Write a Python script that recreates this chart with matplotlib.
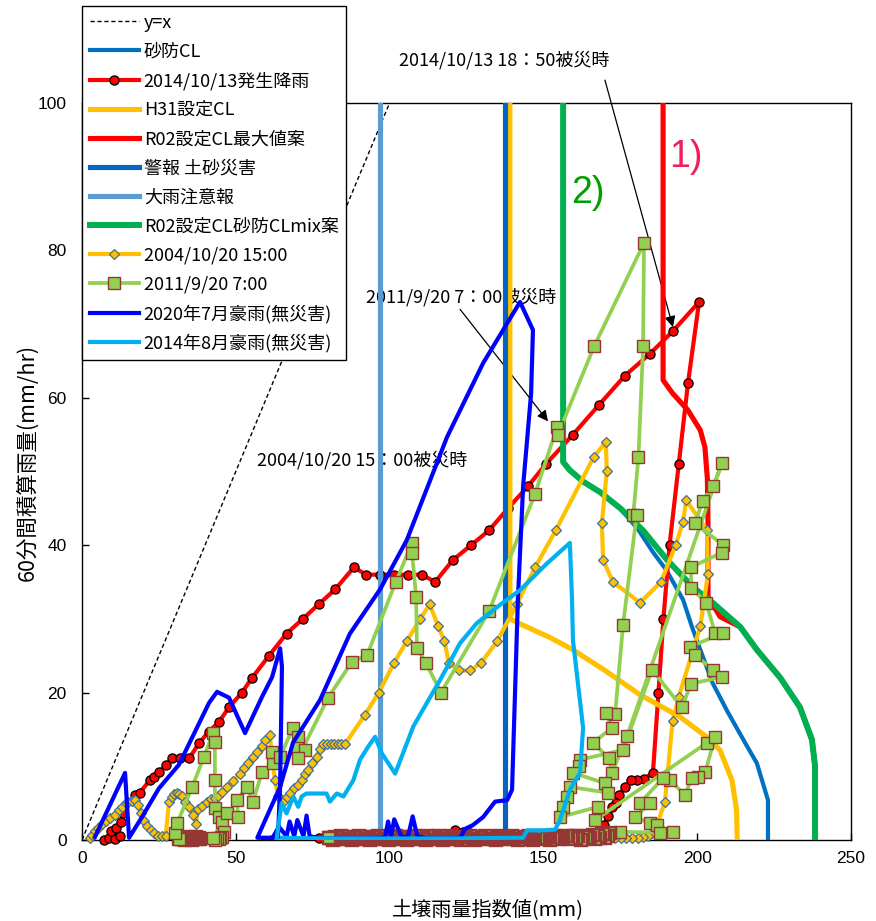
import matplotlib
matplotlib.use("Agg")
import matplotlib.pyplot as plt

plt.rcParams['font.family'] = ['Noto Sans CJK JP', 'DejaVu Sans']

# ---------------- data ----------------
yx_x = [0, 100]
yx_y = [0, 100]

# critical lines (soil index, 60-min rainfall)
sabo_cl = [(156.4, 100), (156.4, 51.3), (158.5, 50.2), (163.0, 48.6), (168.4, 47.2), (175.0, 45.0),
           (181.0, 42.0), (185.7, 39.0), (190.0, 36.6), (195.4, 32.6), (198.3, 28.9), (201.0, 25.8),
           (205.0, 21.3), (209.6, 17.6), (215.0, 13.6), (219.4, 10.4), (222.0, 6.8), (223.0, 5.4),
           (223.0, 0)]
h31_cl = [(139.1, 100), (139.1, 30.0), (142.5, 29.3), (152.0, 27.5), (159.6, 25.8), (170.0, 23.0),
          (181.4, 19.7), (194.4, 16.7), (203.0, 14.0), (207.4, 12.2), (211.3, 8.1), (212.8, 4.0),
          (213.0, 0)]
r02_max_cl = [(188.9, 100), (188.9, 62.4), (192.0, 60.6), (197.0, 58.3), (201.0, 55.6), (202.5, 53.3),
              (203.3, 49.0), (203.5, 43.0), (203.5, 33.0), (207.4, 30.3), (214.0, 28.9), (219.4, 25.8),
              (227.0, 22.0), (233.4, 18.0), (237.3, 13.6), (238.3, 10.0), (238.3, 0)]
keiho_x = [137.5, 137.5]
keiho_y = [0, 100]
ooame_x = [96.9, 96.9]
ooame_y = [0, 100]
r02_mix_cl = [(156.4, 100), (156.4, 51.3), (158.5, 50.2), (163.0, 48.6), (168.4, 47.2), (175.0, 45.0),
              (182.4, 42.0), (190.2, 38.0), (198.6, 34.3), (205.0, 32.2), (214.0, 28.9), (219.4, 25.8),
              (227.0, 22.0), (233.4, 18.0), (237.3, 13.6), (238.3, 10.0), (238.3, 0)]

# 2014/10/13 rainfall
rain_20141013 = [(7.0, 0.0), (8.8, 0.2), (10.7, 0.1), (12.5, 0.6), (9.5, 1.2), (11.2, 1.6), (12.8, 2.4),
                 (13.2, 3.6), (17.2, 6.1), (18.8, 6.4), (22.0, 8.1), (23.3, 8.5), (25.0, 9.2), (27.4, 10.2),
                 (29.3, 11.1), (32.0, 11.1), (34.9, 11.1), (38.0, 13.1), (41.2, 14.7), (44.5, 16.0),
                 (47.8, 18.0), (52.0, 20.0), (55.3, 22.0), (60.8, 25.0), (66.5, 28.0), (71.8, 30.0),
                 (77.0, 32.0), (82.3, 34.0), (88.4, 37.0), (92.3, 36.0), (96.9, 36.0), (101.4, 36.0),
                 (106.0, 36.0), (110.5, 36.0), (114.8, 35.0), (120.6, 38.0), (126.5, 40.0), (132.3, 42.0),
                 (138.5, 45.0), (145.0, 48.0), (150.8, 51.0), (159.6, 55.0), (168.0, 59.0), (176.5, 63.0),
                 (184.7, 66.0), (192.0, 69.0), (200.6, 73.0), (197.0, 62.0), (194.0, 51.0), (191.0, 40.0),
                 (189.0, 30.0), (187.4, 20.0), (185.6, 9.1), (182.7, 8.3), (180.4, 8.1), (178.5, 8.1),
                 (176.5, 7.2), (174.6, 6.1), (173.6, 5.0), (172.3, 4.5), (171.0, 3.2), (169.6, 2.0),
                 (167.8, 1.2), (165.5, 0.7), (163.0, 0.5), (160.5, 0.4), (158.0, 0.3), (155.5, 0.3),
                 (153.0, 0.3), (150.5, 0.3), (148.0, 0.3), (145.5, 0.3), (143.0, 0.3), (140.5, 0.3),
                 (138.0, 0.3), (135.5, 0.3), (133.0, 0.3), (130.5, 0.3), (128.2, 0.5), (126.0, 1.0),
                 (123.9, 1.1), (121.4, 1.4), (119.0, 0.5), (116.5, 0.3), (114.0, 0.3), (111.5, 0.3),
                 (109.0, 0.3), (106.5, 0.3), (104.0, 0.3), (101.5, 0.3), (99.0, 0.3), (96.5, 0.3),
                 (94.0, 0.3), (91.5, 0.3), (89.0, 0.3), (86.5, 0.3), (84.0, 0.3), (81.5, 0.3),
                 (79.2, 0.3), (77.0, 0.3)]
hollow_pt_x = [44.0]
hollow_pt_y = [0.1]

# 2004/10/20 rainfall
rain_20041020 = [(2.5, 0.3), (3.4, 0.7), (4.3, 1.2), (5.3, 1.6), (6.5, 2.1), (7.8, 2.6), (9.0, 3.0),
                 (10.8, 3.4), (12.0, 4.0), (13.0, 4.5), (14.2, 5.0), (15.0, 5.2), (16.2, 5.3), (17.2, 5.4),
                 (18.3, 4.7), (19.2, 3.6), (20.2, 2.6), (21.2, 1.9), (22.3, 1.3), (23.5, 0.9), (24.8, 0.6),
                 (26.0, 0.5), (27.2, 0.6), (28.3, 5.2), (29.2, 5.8), (30.0, 6.2), (30.8, 6.4), (31.6, 6.3),
                 (32.5, 6.0), (33.6, 5.2), (34.8, 4.5), (36.0, 3.4), (37.0, 2.2), (37.8, 4.2), (39.0, 4.6),
                 (40.5, 5.2), (42.0, 5.5), (43.2, 5.7), (44.3, 5.9), (45.5, 6.5), (47.0, 7.2), (49.0, 8.0),
                 (51.4, 9.0), (52.7, 9.7), (54.0, 10.4), (55.5, 11.2), (57.0, 12.0), (58.5, 12.8),
                 (59.5, 13.6), (61.0, 14.2), (61.8, 11.5), (62.7, 8.1), (63.8, 6.0), (65.3, 5.2),
                 (66.5, 5.8), (67.6, 6.4), (69.0, 7.0), (70.2, 7.5), (71.5, 8.1), (72.5, 9.0), (73.4, 9.5),
                 (74.8, 10.4), (76.3, 11.3), (77.4, 12.4), (78.5, 13.0), (79.6, 13.0), (80.8, 13.0),
                 (82.0, 13.0), (83.2, 13.0), (84.3, 13.0), (85.5, 13.0), (92.0, 17.0), (96.5, 20.0),
                 (101.4, 24.0), (105.6, 27.0), (110.0, 30.0), (113.0, 32.0), (115.8, 29.0), (117.8, 27.0),
                 (119.3, 24.0), (122.6, 23.0), (126.2, 23.0), (129.7, 24.0), (135.0, 27.0), (141.4, 32.0),
                 (147.3, 37.0), (154.0, 42.0), (166.4, 52.0), (170.3, 54.0), (170.6, 50.0), (169.0, 43.0),
                 (169.4, 38.0), (172.6, 35.0), (181.4, 32.2), (188.2, 35.0), (193.0, 40.0), (195.4, 43.2),
                 (196.4, 46.1), (203.2, 42.0), (203.5, 36.1), (201.0, 29.0), (194.0, 19.4), (192.0, 16.2),
                 (189.5, 5.2), (186.5, 1.5), (185.3, 0.9), (184.0, 0.5), (182.4, 0.4), (180.6, 0.3),
                 (178.8, 0.3), (177.0, 0.2), (175.2, 0.2), (173.4, 0.2), (171.6, 0.2), (169.8, 0.2),
                 (168.0, 0.1), (166.2, 0.1), (164.4, 0.1), (162.6, 0.1), (160.8, 0.1), (159.0, 0.1),
                 (157.2, 0.1), (155.4, 0.1), (153.6, 0.1), (151.8, 0.1), (150.0, 0.1)]

# 2011/9/20 rainfall: opening recession, then the storm
start_2011 = [(38.4, 0.1), (37.9, 0.3), (37.4, 0.1), (36.9, 0.4), (36.4, 0.2), (35.9, 0.0), (35.4, 0.3),
              (34.9, 0.1), (34.4, 0.4), (33.9, 0.2), (33.4, 0.0), (32.9, 0.3), (32.4, 0.1), (31.9, 0.2),
              (31.4, 0.1)]
rain_20110920 = [(31.4, 0.1), (30.2, 0.9),
                 (31.0, 2.3), (35.8, 7.2), (39.7, 11.3), (42.6, 14.5), (43.2, 13.3), (43.2, 8.1),
                 (43.2, 4.3), (44.5, 3.1), (45.5, 2.4), (46.1, 1.1), (45.6, 0.4), (45.0, 0.3), (44.4, 0.1),
                 (43.8, 0.2), (43.2, 0.0), (42.7, 0.3), (47.0, 3.7), (50.7, 3.1), (50.4, 5.4), (53.6, 7.2),
                 (55.6, 5.2), (58.5, 9.2), (62.0, 10.4), (61.8, 12.0), (64.4, 11.3), (68.6, 15.2),
                 (70.2, 14.0), (70.0, 12.5), (72.5, 12.2), (70.2, 11.1), (80.0, 19.3), (87.8, 24.2),
                 (92.7, 25.1), (102.0, 35.0), (107.3, 40.3), (107.3, 39.0), (108.6, 33.0), (108.9, 26.0),
                 (111.8, 24.0), (116.7, 20.0), (132.3, 31.0), (147.3, 47.0), (154.4, 56.0), (154.7, 55.0),
                 (166.5, 67.0), (182.7, 81.0), (182.4, 67.0), (180.9, 52.0), (179.2, 44.1), (180.3, 44.1),
                 (175.9, 29.2), (173.3, 17.1), (170.3, 17.2), (172.3, 15.2), (166.1, 13.2), (171.3, 11.1),
                 (172.3, 9.1), (177.2, 14.1), (208.0, 51.1), (205.2, 48.0), (201.8, 46.0), (199.3, 43.0),
                 (208.4, 40.0), (208.0, 39.0), (198.0, 37.0), (198.0, 34.2), (202.9, 32.2), (205.8, 28.1),
                 (208.4, 28.1), (197.7, 26.2), (199.3, 25.1), (205.0, 23.1), (208.0, 22.1), (198.0, 21.2),
                 (195.0, 18.0), (185.3, 23.1), (175.9, 12.2), (161.9, 10.9), (161.6, 10.0), (159.6, 9.1),
                 (170.0, 7.7), (171.0, 6.4), (158.6, 7.2), (157.6, 5.8), (156.4, 4.5), (155.4, 3.1),
                 (167.8, 4.5), (166.8, 2.7), (203.2, 13.2), (205.8, 14.0), (202.6, 9.2), (200.3, 8.5),
                 (198.3, 8.4), (196.0, 6.1), (191.2, 8.1), (188.9, 8.4), (181.4, 5.0), (184.6, 5.0),
                 (179.8, 3.1), (184.6, 2.3), (186.9, 2.0), (192.0, 1.1), (188.0, 1.0), (175.0, 1.1),
                 (171.6, 1.0)]
# recession after the 2011 event (index falling, almost no rain)
recess_2011_x = [171.6, 170.9, 170.1, 169.3, 168.5, 167.7, 166.9, 166.1, 165.3, 164.5, 163.7,
                 162.9, 162.1, 161.3, 160.5, 159.7, 158.9, 158.1, 157.3, 156.5, 155.8,
                 155.1, 154.4, 153.7, 153.0, 152.3, 151.6, 150.9, 150.2, 149.5, 148.8,
                 148.1, 147.4, 146.7, 146.0, 145.3, 144.7, 144.1, 143.5, 142.9, 142.3,
                 141.7, 141.1, 140.5, 139.9, 139.3, 138.7, 138.1, 137.5, 136.9, 136.3,
                 135.7, 135.1, 134.5, 133.9, 133.3, 132.7, 132.1, 131.5, 130.9, 130.3,
                 129.7, 129.1, 128.5, 127.9, 127.3, 126.7, 126.1, 125.5, 124.9, 124.3,
                 123.7, 123.1, 122.5, 121.9, 121.3, 120.7, 120.2, 119.7, 119.2, 118.7,
                 118.2, 117.7, 117.2, 116.7, 116.2, 115.7, 115.2, 114.7, 114.2, 113.7,
                 113.2, 112.7, 112.2, 111.7, 111.2, 110.7, 110.2, 109.7, 109.2, 108.7,
                 108.2, 107.7, 107.2, 106.7, 106.2, 105.7, 105.2, 104.7, 104.2, 103.7,
                 103.2, 102.7, 102.2, 101.7, 101.2, 100.7, 100.2, 99.7, 99.2, 98.7,
                 98.2, 97.7, 97.2, 96.7, 96.2, 95.7, 95.2, 94.7, 94.2, 93.7,
                 93.2, 92.7, 92.2, 91.7, 91.2, 90.7, 90.2, 89.7, 89.2, 88.7,
                 88.2, 87.7, 87.2, 86.7, 86.2, 85.7, 85.2, 84.7, 84.2, 83.7,
                 83.2, 82.7, 82.2, 81.7, 81.2, 80.7, 80.2]
recess_2011_y = [1.0, 0.6, 0.3, 0.8, 0.2, 0.5, 0.1, 0.7, 0.3, 0.6, 0.2,
                 0.4, 0.0, 0.5, 0.2, 0.6, 0.3, 0.1, 0.5, 0.2, 0.4,
                 0.1, 0.3, 0.5, 0.2, 0.0, 0.4, 0.2, 0.5, 0.1, 0.3,
                 0.2, 0.4, 0.0, 0.3, 0.5, 0.2, 0.1, 0.4, 0.2, 0.3,
                 0.0, 0.4, 0.2, 0.5, 0.1, 0.3, 0.2, 0.4, 0.1, 0.3,
                 0.5, 0.2, 0.0, 0.3, 0.4, 0.1, 0.3, 0.2, 0.5, 0.1,
                 0.3, 0.2, 0.4, 0.0, 0.3, 0.2, 0.5, 0.1, 0.4, 0.2,
                 0.3, 0.0, 0.4, 0.2, 0.3, 0.1, 0.5, 0.2, 0.3, 0.1,
                 0.4, 0.2, 0.0, 0.3, 0.5, 0.1, 0.3, 0.2, 0.4, 0.1,
                 0.3, 0.2, 0.5, 0.0, 0.3, 0.2, 0.4, 0.1, 0.3, 0.2,
                 0.5, 0.1, 0.3, 0.2, 0.4, 0.0, 0.3, 0.2, 0.4, 0.1,
                 0.3, 0.2, 0.5, 0.1, 0.3, 0.2, 0.4, 0.0, 0.3, 0.2,
                 0.4, 0.1, 0.3, 0.2, 0.5, 0.1, 0.3, 0.2, 0.4, 0.0,
                 0.3, 0.2, 0.4, 0.1, 0.3, 0.2, 0.5, 0.1, 0.3, 0.2,
                 0.4, 0.0, 0.3, 0.2, 0.4, 0.1, 0.3, 0.2, 0.5, 0.1,
                 0.3, 0.2, 0.4, 0.0, 0.3, 0.2, 0.3]

# 2020 July heavy rain (no damage)
rain_202007 = [(4.2, 0.4), (14.0, 9.1), (15.3, 0.3), (19.5, 3.1), (25.0, 7.0), (31.5, 10.2), (41.3, 18.6),
               (43.9, 20.1), (47.8, 19.3), (53.0, 14.5), (58.5, 19.4), (61.8, 22.1), (64.4, 26.0),
               (65.0, 23.5), (64.4, 7.2), (63.7, 0.3), (57.0, 0.3), (64.4, 7.2), (68.6, 13.2), (77.4, 19.0),
               (87.1, 28.0), (96.9, 34.0), (105.6, 40.7), (118.7, 54.7), (130.4, 64.7), (142.4, 73.0),
               (146.6, 69.2), (146.0, 60.6), (143.4, 48.0), (141.7, 32.6), (139.8, 6.8), (138.2, 5.4),
               (134.3, 5.2), (130.4, 3.1), (127.0, 2.0), (124.5, 1.5), (123.0, 0.3), (118.0, 0.2),
               (112.0, 0.2), (109.0, 0.5), (107.5, 3.2), (106.0, 0.5), (104.0, 0.3), (101.5, 2.8),
               (100.5, 0.5), (99.5, 2.5), (98.5, 0.3), (92.0, 0.2), (85.0, 0.2), (78.0, 0.2), (74.0, 0.5),
               (73.0, 3.3), (72.0, 0.5), (70.0, 2.7), (69.0, 0.5), (67.5, 2.5), (66.5, 0.5), (64.0, 1.8),
               (62.0, 0.3), (59.0, 0.2)]

# 2014 August heavy rain (no damage)
rain_201408 = [(63.3, 0.2), (64.9, 5.0), (66.5, 3.6), (68.7, 5.9), (70.3, 4.5), (71.4, 5.9), (73.0, 6.3),
               (79.5, 6.3), (80.6, 5.2), (82.8, 6.3), (85.0, 5.9), (88.2, 8.1), (90.4, 10.9), (93.1, 12.7),
               (95.3, 14.0), (97.4, 11.8), (99.6, 10.4), (101.8, 9.0), (107.7, 15.4), (116.4, 21.7),
               (122.9, 26.7), (128.3, 29.4), (135.9, 31.9), (142.4, 33.9), (151.1, 37.5), (158.6, 40.3),
               (159.3, 32.6), (159.6, 27.1), (162.9, 15.2), (161.9, 9.1), (158.6, 6.8), (155.4, 2.7),
               (153.8, 1.4), (149.5, 1.3), (144.7, 1.3), (143.4, 0.3), (120.0, 0.2), (100.0, 0.2),
               (80.0, 0.2), (65.0, 0.3)]

x_ticks = [0, 50, 100, 150, 200, 250]
y_ticks = [0, 20, 40, 60, 80, 100]


def xy(pairs):
    return [p[0] for p in pairs], [p[1] for p in pairs]


# ---------------- figure ----------------
fig = plt.figure(figsize=(8.76, 9.21), dpi=100)
ax = fig.add_axes([0.0936, 0.0880, 0.8779, 0.8002])

LW_CL = 3.7
LW_S = 3.0
sq_style = dict(color='#92D050', lw=2.7, marker='s', ms=9, mfc='#92D050', mec='#953735', zorder=11,
                clip_on=False)

ax.plot(yx_x, yx_y, color='black', lw=1.0, ls=(0, (3, 2)), label='y=x', zorder=2)
x, y = xy(sabo_cl)
ax.plot(x, y, color='#0070C0', lw=LW_CL - 0.7, label='砂防CL', zorder=3)
x, y = xy(rain_20141013)
ax.plot(x, y, color='#FF0000', lw=LW_S, marker='o', ms=6.6, mfc='#FF0000', mec='black', mew=0.9,
        label='2014/10/13発生降雨', zorder=4, clip_on=False)
ax.plot(hollow_pt_x, hollow_pt_y, ls='none', marker='o', ms=6.6, mfc='none', mec='black', mew=0.9,
        zorder=4, clip_on=False)
x, y = xy(h31_cl)
ax.plot(x, y, color='#FFC000', lw=LW_CL, label='H31設定CL', zorder=5)
x, y = xy(r02_max_cl)
ax.plot(x, y, color='#FF0000', lw=LW_CL, label='R02設定CL最大値案', zorder=6)
ax.plot(keiho_x, keiho_y, color='#0563C1', lw=LW_CL, label='警報 土砂災害', zorder=7)
ax.plot(ooame_x, ooame_y, color='#5B9BD5', lw=LW_CL, label='大雨注意報', zorder=8)
x, y = xy(r02_mix_cl)
ax.plot(x, y, color='#00B050', lw=LW_CL + 0.6, label='R02設定CL砂防CLmix案', zorder=9)
x, y = xy(rain_20041020)
ax.plot(x, y, color='#FFC000', lw=LW_S, marker='D', ms=5.6, mfc='#FFC000', mec='#41719C', mew=0.9,
        label='2004/10/20 15:00', zorder=10, clip_on=False)
x, y = xy(start_2011)
ax.plot(x, y, mew=1.7, **sq_style)
x, y = xy(rain_20110920)
ax.plot(x, y, mew=1.0, label='2011/9/20 7:00', **sq_style)
ax.plot(recess_2011_x, recess_2011_y, mew=1.7, **sq_style)
x, y = xy(rain_202007)
ax.plot(x, y, color='#0000FF', lw=LW_S, label='2020年7月豪雨(無災害)', zorder=12)
x, y = xy(rain_201408)
ax.plot(x, y, color='#00B0F0', lw=LW_S, label='2014年8月豪雨(無災害)', zorder=13)

ax.set_xlim(0, 250)
ax.set_ylim(0, 100)
ax.set_xticks(x_ticks)
ax.set_yticks(y_ticks)
ax.tick_params(direction='in', length=5, width=1, labelsize=12.5, colors='black')
ax.tick_params(axis='x', pad=8)
ax.tick_params(axis='y', pad=11)
for lbl in ax.get_xticklabels() + ax.get_yticklabels():
    lbl.set_fontfamily('Liberation Sans')
for s in ax.spines.values():
    s.set_linewidth(1.0)
    s.set_color('black')

# axis titles
fig.text(488 / 876, 1 - 910 / 921, '土壌雨量指数値(mm)', ha='center', va='center', fontsize=14.5)
fig.text(27 / 876, 1 - 462 / 921, '60分間積算雨量(mm/hr)', ha='center', va='center', rotation=90,
         fontsize=15.5)

# event annotations
ax.text(137.2, 105.8, '2014/10/13 18：50被災時', ha='center', va='center', fontsize=13, clip_on=False)
ax.annotate('', xy=(192.1, 69.6), xytext=(170.0, 103.1), xycoords='data',
            arrowprops=dict(arrowstyle='-|>', color='black', lw=0.9, mutation_scale=16,
                            shrinkA=0, shrinkB=0), annotation_clip=False)
ax.text(123.2, 73.7, '2011/9/20 7：00被災時', ha='center', va='center', fontsize=13)
ax.annotate('', xy=(151.5, 56.8), xytext=(122.9, 72.0), xycoords='data',
            arrowprops=dict(arrowstyle='-|>', color='black', lw=0.9, mutation_scale=16,
                            shrinkA=0, shrinkB=0))
ax.text(91.0, 51.6, '2004/10/20 15：00被災時', ha='center', va='center', fontsize=13)
ax.text(196.4, 92.7, '1)', ha='center', va='center', fontsize=27, color='#F01E5A', zorder=20,
        family='Liberation Sans')
ax.text(164.5, 87.8, '2)', ha='center', va='center', fontsize=27, color='#00A000', zorder=20,
        family='Liberation Sans')

leg = fig.legend(loc='upper left', bbox_to_anchor=(82 / 876, 1 - 6 / 921), bbox_transform=fig.transFigure,
                 borderaxespad=0, fontsize=13, frameon=True, fancybox=False, framealpha=1,
                 edgecolor='black', facecolor='white', handlelength=2.75, handletextpad=0.25,
                 labelspacing=0.61, borderpad=0.42, numpoints=1)
leg.get_frame().set_linewidth(1.0)

fig.savefig('out.png', dpi=100)
